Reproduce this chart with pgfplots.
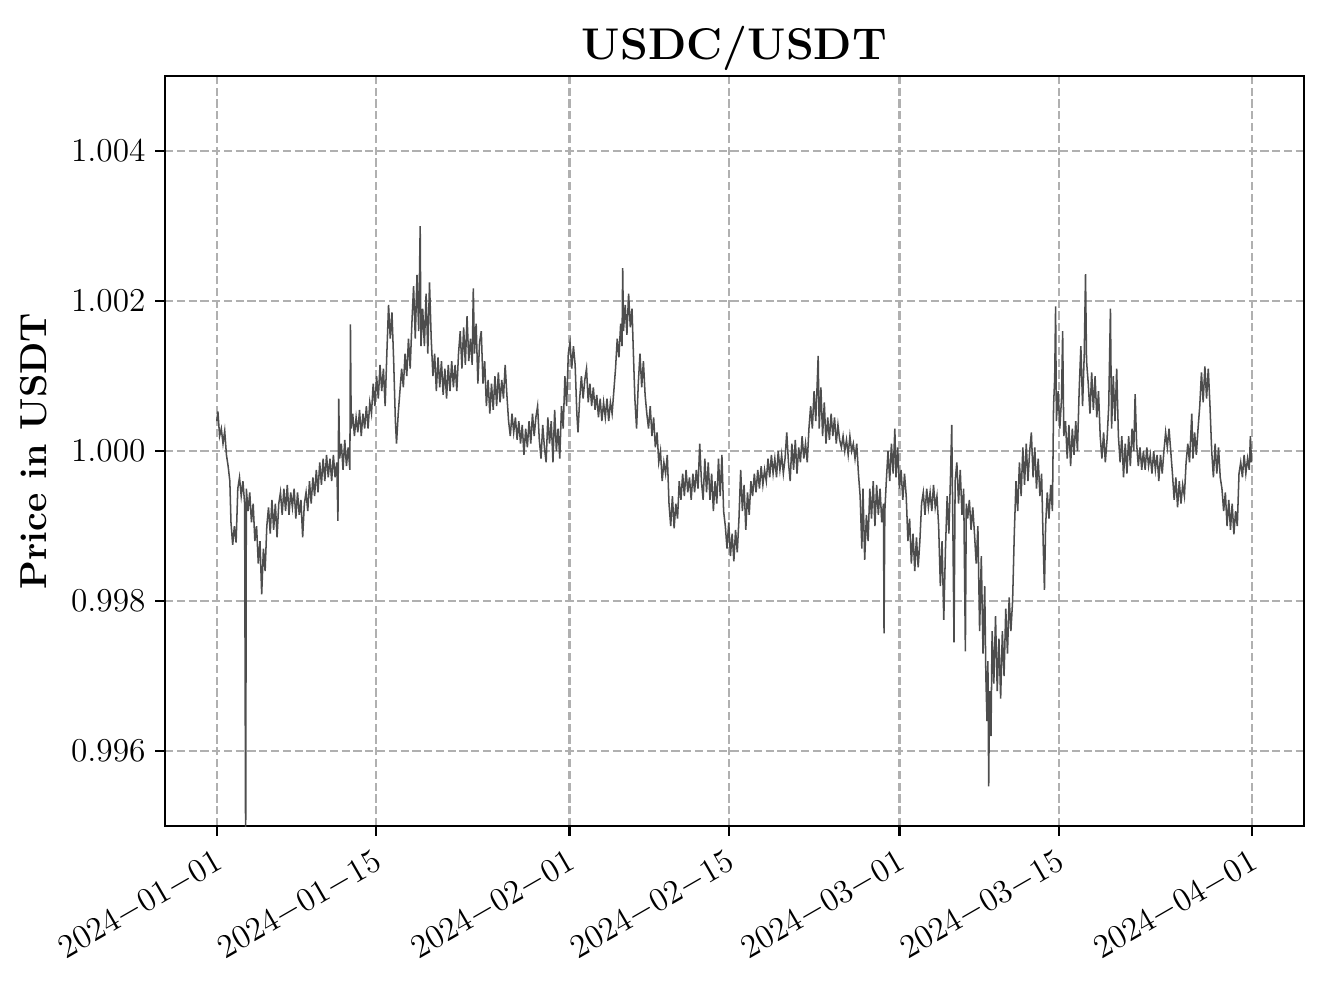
\documentclass[border=0pt]{standalone}
\usepackage{pgfplots}
\pgfplotsset{compat=1.18}

\definecolor{gridgray}{HTML}{B0B0B0}
\definecolor{linegray}{HTML}{4D4D4D}

\begin{document}
\begin{tikzpicture}
% invisible frame that keeps the white margins of the reference
\path (-59.4pt,-56.9pt) rectangle (418.7pt,297.4pt);
\begin{axis}[
    scale only axis,
    width=410pt,
    height=270pt,
    xmin=-4.55, xmax=95.55,
    ymin=0.995, ymax=1.005,
    axis line style={line width=0.8pt},
    tick align=outside,
    xtick pos=left, ytick pos=left,
    major tick length=3.5pt,
    tick style={line width=0.8pt, black},
    grid=major,
    major grid style={gridgray, line width=0.8pt, dash pattern=on 2.96pt off 1.28pt},
    xtick={0,14,31,45,60,74,91},
    xticklabels={$2024{-}01{-}01$,$2024{-}01{-}15$,$2024{-}02{-}01$,$2024{-}02{-}15$,$2024{-}03{-}01$,$2024{-}03{-}15$,$2024{-}04{-}01$},
    xticklabel style={rotate=30, anchor=north east, font=\fontsize{12.2}{14}\selectfont},
    ytick={0.996,0.998,1.000,1.002,1.004},
    yticklabel style={font=\fontsize{12.2}{14}\selectfont,
        /pgf/number format/.cd, fixed, fixed zerofill, precision=3},
    scaled y ticks=false,
    title={\textbf{USDC/USDT}},
    every axis title shift=0pt,
    title style={at={(0.5,1)}, anchor=base, yshift=6.1pt, font=\fontsize{16}{19}\selectfont},
    ylabel={\textbf{Price in USDT}},
    ylabel style={font=\fontsize{13.5}{16}\selectfont, yshift=2pt},
]
\addplot[linegray, line width=0.55pt, mark=none] coordinates {
(0.00,1.00040) (0.10,1.00053) (0.25,1.00020) (0.40,1.00030) (0.55,1.00010) (0.70,1.00027)
(0.85,0.99995) (1.00,0.99980) (1.15,0.99960) (1.25,0.99905) (1.40,0.99875) (1.55,0.99900)
(1.70,0.99878) (1.85,0.99950) (2.00,0.99965) (2.15,0.99940) (2.30,0.99960) (2.45,0.99930)
(2.54,0.99450) (2.60,0.99950) (2.75,0.99920) (2.90,0.99945) (3.05,0.99905) (3.20,0.99930)
(3.35,0.99880) (3.50,0.99900) (3.65,0.99850) (3.80,0.99880) (3.95,0.99809) (4.10,0.99870)
(4.25,0.99840) (4.40,0.99900) (4.55,0.99925) (4.70,0.99890) (4.85,0.99935) (5.00,0.99895)
(5.15,0.99930) (5.30,0.99885) (5.45,0.99930) (5.60,0.99945) (5.75,0.99915) (5.90,0.99950)
(6.05,0.99920) (6.20,0.99955) (6.35,0.99915) (6.50,0.99945) (6.65,0.99925) (6.80,0.99950)
(6.95,0.99910) (7.10,0.99945) (7.25,0.99915) (7.40,0.99935) (7.55,0.99885) (7.70,0.99930)
(7.85,0.99945) (8.00,0.99920) (8.15,0.99960) (8.30,0.99930) (8.45,0.99965) (8.60,0.99940)
(8.75,0.99975) (8.90,0.99945) (9.05,0.99985) (9.20,0.99955) (9.35,0.99990) (9.50,0.99960)
(9.65,0.99995) (9.80,0.99965) (9.95,0.99990) (10.10,0.99960) (10.25,0.99995) (10.40,0.99965)
(10.55,0.99985) (10.65,0.99907) (10.72,1.00070) (10.80,0.99990) (10.95,1.00010) (11.10,0.99975)
(11.25,1.00015) (11.40,0.99980) (11.55,1.00005) (11.70,0.99975) (11.75,1.00169) (11.82,1.00030)
(11.95,1.00050) (12.10,1.00020) (12.25,1.00045) (12.40,1.00025) (12.55,1.00055) (12.70,1.00020)
(12.85,1.00050) (13.00,1.00030) (13.15,1.00060) (13.30,1.00030) (13.45,1.00065) (13.60,1.00050)
(13.75,1.00090) (13.90,1.00060) (14.05,1.00100) (14.20,1.00070) (14.35,1.00115) (14.50,1.00080)
(14.65,1.00110) (14.80,1.00060) (14.95,1.00130) (15.10,1.00195) (15.25,1.00150) (15.40,1.00185)
(15.55,1.00120) (15.70,1.00040) (15.80,1.00010) (15.95,1.00050) (16.10,1.00080) (16.25,1.00110)
(16.40,1.00085) (16.55,1.00130) (16.70,1.00100) (16.85,1.00150) (17.00,1.00110) (17.15,1.00170)
(17.30,1.00220) (17.45,1.00150) (17.60,1.00235) (17.75,1.00160) (17.88,1.00300) (17.95,1.00140)
(18.10,1.00190) (18.25,1.00140) (18.40,1.00210) (18.55,1.00130) (18.70,1.00225) (18.85,1.00150)
(19.00,1.00100) (19.15,1.00130) (19.30,1.00080) (19.45,1.00125) (19.60,1.00085) (19.75,1.00120)
(19.90,1.00075) (20.05,1.00110) (20.20,1.00070) (20.35,1.00115) (20.50,1.00080) (20.65,1.00120)
(20.80,1.00085) (20.95,1.00115) (21.10,1.00080) (21.25,1.00130) (21.40,1.00160) (21.55,1.00110)
(21.70,1.00165) (21.85,1.00115) (22.00,1.00180) (22.15,1.00120) (22.30,1.00150) (22.45,1.00115)
(22.55,1.00217) (22.65,1.00130) (22.80,1.00170) (22.95,1.00090) (23.10,1.00145) (23.25,1.00160)
(23.40,1.00090) (23.55,1.00120) (23.70,1.00060) (23.85,1.00095) (24.00,1.00050) (24.15,1.00090)
(24.30,1.00055) (24.45,1.00100) (24.60,1.00060) (24.75,1.00105) (24.90,1.00065) (25.05,1.00095)
(25.20,1.00070) (25.35,1.00115) (25.50,1.00075) (25.65,1.00040) (25.80,1.00020) (25.95,1.00050)
(26.10,1.00025) (26.25,1.00045) (26.40,1.00015) (26.55,1.00040) (26.70,1.00010) (26.85,1.00035)
(27.00,0.99995) (27.15,1.00030) (27.30,1.00005) (27.45,1.00040) (27.60,1.00010) (27.75,1.00050)
(27.90,1.00020) (28.05,1.00045) (28.20,1.00060) (28.35,1.00015) (28.50,0.99990) (28.65,1.00035)
(28.80,1.00005) (28.95,0.99985) (29.10,1.00045) (29.25,1.00010) (29.40,1.00040) (29.55,0.99985)
(29.70,1.00055) (29.85,1.00000) (30.00,1.00030) (30.15,0.99990) (30.30,1.00060) (30.45,1.00030)
(30.60,1.00100) (30.75,1.00060) (30.90,1.00130) (31.05,1.00145) (31.20,1.00110) (31.35,1.00140)
(31.50,1.00115) (31.65,1.00050) (31.75,1.00025) (31.90,1.00070) (32.05,1.00100) (32.20,1.00070)
(32.35,1.00095) (32.50,1.00110) (32.65,1.00065) (32.80,1.00090) (32.95,1.00060) (33.10,1.00085)
(33.25,1.00055) (33.40,1.00075) (33.55,1.00045) (33.70,1.00070) (33.85,1.00040) (34.00,1.00065)
(34.15,1.00045) (34.30,1.00070) (34.45,1.00040) (34.60,1.00065) (34.75,1.00050) (34.90,1.00080)
(35.05,1.00110) (35.20,1.00150) (35.35,1.00125) (35.50,1.00170) (35.62,1.00140) (35.68,1.00244)
(35.75,1.00160) (35.90,1.00195) (36.05,1.00155) (36.20,1.00210) (36.35,1.00165) (36.50,1.00190)
(36.60,1.00140) (36.75,1.00070) (36.90,1.00030) (37.05,1.00090) (37.20,1.00130) (37.35,1.00085)
(37.50,1.00120) (37.65,1.00075) (37.80,1.00050) (37.95,1.00030) (38.10,1.00060) (38.25,1.00020)
(38.40,1.00045) (38.55,1.00005) (38.70,1.00025) (38.85,0.99985) (39.00,1.00000) (39.15,0.99960)
(39.30,0.99985) (39.45,0.99970) (39.60,0.99995) (39.75,0.99930) (39.90,0.99900) (40.05,0.99940)
(40.20,0.99897) (40.35,0.99930) (40.50,0.99910) (40.65,0.99960) (40.80,0.99935) (40.95,0.99970)
(41.10,0.99940) (41.25,0.99975) (41.40,0.99945) (41.55,0.99965) (41.70,0.99935) (41.85,0.99970)
(42.00,0.99945) (42.15,0.99975) (42.30,0.99950) (42.45,1.00010) (42.60,0.99960) (42.75,0.99935)
(42.90,0.99990) (43.05,0.99945) (43.20,0.99985) (43.35,0.99935) (43.50,0.99970) (43.65,0.99920)
(43.80,0.99960) (43.95,0.99930) (44.10,0.99990) (44.25,0.99940) (44.40,0.99995) (44.55,0.99920)
(44.70,0.99900) (44.85,0.99870) (45.00,0.99905) (45.15,0.99860) (45.30,0.99890) (45.45,0.99853)
(45.60,0.99895) (45.75,0.99865) (45.90,0.99910) (46.05,0.99975) (46.20,0.99920) (46.35,0.99955)
(46.50,0.99895) (46.65,0.99945) (46.80,0.99915) (46.95,0.99960) (47.10,0.99940) (47.25,0.99970)
(47.40,0.99945) (47.55,0.99975) (47.70,0.99950) (47.85,0.99980) (48.00,0.99955) (48.15,0.99975)
(48.30,0.99960) (48.45,0.99990) (48.60,0.99965) (48.75,0.99995) (48.90,0.99970) (49.05,0.99990)
(49.20,0.99965) (49.35,1.00000) (49.50,0.99975) (49.65,0.99995) (49.80,0.99970) (49.95,0.99990)
(50.10,1.00025) (50.25,0.99985) (50.40,0.99960) (50.55,1.00010) (50.70,0.99975) (50.85,1.00015)
(51.00,0.99970) (51.15,1.00005) (51.30,0.99985) (51.45,1.00020) (51.60,0.99990) (51.75,1.00010)
(51.90,0.99985) (52.05,1.00030) (52.20,1.00060) (52.35,1.00030) (52.50,1.00080) (52.65,1.00040)
(52.80,1.00100) (52.86,1.00127) (52.95,1.00030) (53.10,1.00085) (53.25,1.00020) (53.40,1.00065)
(53.55,1.00010) (53.70,1.00045) (53.85,1.00015) (54.00,1.00050) (54.15,1.00020) (54.30,1.00045)
(54.45,1.00010) (54.60,1.00035) (54.75,1.00015) (54.90,1.00005) (55.05,1.00020) (55.20,1.00000)
(55.35,1.00015) (55.50,0.99995) (55.65,1.00020) (55.80,1.00000) (55.95,1.00010) (56.10,0.99990)
(56.25,1.00010) (56.40,0.99970) (56.55,0.99940) (56.70,0.99870) (56.80,0.99950) (56.95,0.99855)
(57.10,0.99915) (57.25,0.99880) (57.40,0.99950) (57.55,0.99910) (57.70,0.99960) (57.85,0.99900)
(58.00,0.99955) (58.15,0.99915) (58.30,0.99950) (58.45,0.99905) (58.60,0.99930) (58.65,0.99757)
(58.72,0.99920) (58.85,0.99960) (59.00,1.00000) (59.15,0.99960) (59.30,1.00010) (59.45,0.99970)
(59.60,1.00030) (59.70,0.99965) (59.85,1.00005) (60.00,0.99950) (60.15,0.99975) (60.30,0.99935)
(60.45,0.99970) (60.60,0.99940) (60.75,0.99880) (60.90,0.99910) (61.05,0.99850) (61.20,0.99890)
(61.35,0.99840) (61.50,0.99885) (61.65,0.99845) (61.80,0.99880) (61.95,0.99930) (62.10,0.99945)
(62.25,0.99915) (62.40,0.99950) (62.55,0.99925) (62.70,0.99945) (62.85,0.99920) (63.00,0.99955)
(63.15,0.99925) (63.30,0.99940) (63.45,0.99900) (63.60,0.99820) (63.75,0.99880) (63.90,0.99775)
(64.05,0.99870) (64.20,0.99940) (64.35,0.99890) (64.50,0.99970) (64.60,1.00035) (64.70,0.99900)
(64.80,0.99745) (64.90,0.99960) (65.05,0.99985) (65.20,0.99930) (65.35,0.99975) (65.50,0.99915)
(65.65,0.99950) (65.80,0.99733) (65.88,0.99930) (66.00,0.99910) (66.15,0.99935) (66.30,0.99895)
(66.45,0.99925) (66.60,0.99890) (66.75,0.99850) (66.90,0.99900) (67.05,0.99760) (67.20,0.99860)
(67.35,0.99730) (67.50,0.99820) (67.60,0.99700) (67.70,0.99640) (67.78,0.99720) (67.85,0.99553)
(67.92,0.99680) (68.05,0.99620) (68.15,0.99760) (68.30,0.99690) (68.45,0.99780) (68.60,0.99680)
(68.75,0.99750) (68.90,0.99670) (69.05,0.99760) (69.20,0.99700) (69.35,0.99790) (69.50,0.99730)
(69.65,0.99805) (69.80,0.99760) (69.95,0.99800) (70.10,0.99890) (70.25,0.99960) (70.40,0.99920)
(70.55,0.99985) (70.70,0.99940) (70.85,1.00005) (71.00,0.99955) (71.15,1.00010) (71.30,0.99960)
(71.45,1.00000) (71.60,1.00025) (71.75,0.99965) (71.90,1.00005) (72.05,0.99950) (72.20,0.99990)
(72.35,0.99940) (72.50,0.99970) (72.65,0.99870) (72.75,0.99815) (72.85,0.99900) (73.00,0.99945)
(73.15,0.99910) (73.30,0.99955) (73.45,0.99920) (73.55,1.00060) (73.65,1.00097) (73.73,1.00193)
(73.80,1.00040) (73.95,1.00080) (74.10,1.00030) (74.25,1.00070) (74.35,1.00160) (74.45,1.00020)
(74.60,1.00040) (74.75,0.99990) (74.90,1.00035) (75.05,0.99980) (75.20,1.00030) (75.35,0.99995)
(75.50,1.00040) (75.65,1.00000) (75.80,1.00080) (75.95,1.00140) (76.10,1.00060) (76.25,1.00130)
(76.36,1.00236) (76.45,1.00120) (76.60,1.00090) (76.75,1.00050) (76.90,1.00105) (77.05,1.00055)
(77.20,1.00100) (77.35,1.00045) (77.50,1.00080) (77.65,1.00020) (77.80,0.99990) (77.95,1.00025)
(78.10,0.99985) (78.25,1.00015) (78.40,1.00060) (78.55,1.00190) (78.65,1.00030) (78.80,1.00100)
(78.95,1.00040) (79.10,1.00110) (79.25,1.00020) (79.40,0.99985) (79.55,1.00020) (79.70,0.99965)
(79.85,1.00010) (80.00,0.99970) (80.15,1.00020) (80.30,0.99980) (80.45,1.00030) (80.60,1.00000)
(80.72,1.00076) (80.85,1.00010) (81.00,0.99980) (81.15,1.00005) (81.30,0.99975) (81.45,1.00000)
(81.60,0.99975) (81.75,1.00005) (81.90,0.99980) (82.05,0.99995) (82.20,0.99970) (82.35,1.00000)
(82.50,0.99975) (82.65,0.99995) (82.80,0.99960) (82.95,0.99995) (83.10,0.99970) (83.25,1.00000)
(83.40,1.00025) (83.55,1.00005) (83.70,1.00030) (83.85,1.00000) (84.00,0.99970) (84.15,0.99935)
(84.30,0.99965) (84.45,0.99925) (84.60,0.99960) (84.75,0.99930) (84.90,0.99955) (85.05,0.99940)
(85.20,0.99985) (85.35,1.00010) (85.50,0.99985) (85.70,1.00050) (85.80,0.99990) (85.95,1.00025)
(86.10,0.99995) (86.25,1.00030) (86.40,1.00060) (86.55,1.00105) (86.70,1.00065) (86.85,1.00113)
(87.00,1.00070) (87.15,1.00110) (87.30,1.00060) (87.45,1.00000) (87.60,0.99965) (87.75,1.00010)
(87.90,0.99970) (88.05,1.00005) (88.20,0.99965) (88.35,0.99950) (88.50,0.99920) (88.65,0.99945)
(88.80,0.99900) (88.95,0.99935) (89.10,0.99895) (89.25,0.99930) (89.40,0.99889) (89.55,0.99920)
(89.70,0.99900) (89.85,0.99970) (90.00,0.99985) (90.15,0.99965) (90.30,0.99995) (90.45,0.99970)
(90.60,0.99990) (90.75,0.99975) (90.85,1.00020) (90.95,0.99985)
};
\end{axis}
\end{tikzpicture}
\end{document}
